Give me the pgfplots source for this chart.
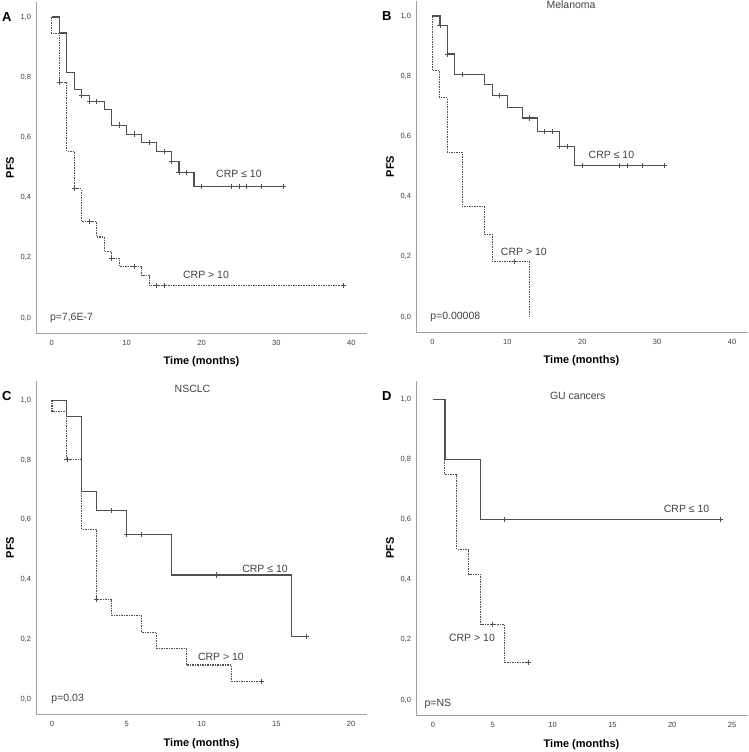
\documentclass[border=0pt]{standalone}
\usepackage{fontspec}
\setmainfont{Liberation Sans}
\usepackage{pgfplots}
\pgfplotsset{compat=1.18}
\definecolor{curve}{HTML}{505050}
\definecolor{axl}{HTML}{A0A0A0}
\definecolor{txt}{HTML}{404040}
\tikzset{
  lab/.style={font=\fontsize{10.5}{12}\selectfont, text=txt},
  letter/.style={font=\fontsize{13}{14}\selectfont\bfseries, anchor=center},
}
\pgfplotsset{
  km/.style={
    scale only axis, width=331pt, height=331pt,
    axis x line*=bottom, axis y line*=left,
    axis line style={axl, line width=0.9pt},
    major tick length=0pt,
    ymin=-0.05, ymax=1.05,
    ytick={0,0.2,0.4,0.6,0.8,1.0},
    yticklabels={0{,}0,0{,}2,0{,}4,0{,}6,0{,}8,1{,}0},
    /pgf/number format/assume math mode=true,
    tick label style={font=\fontsize{7.5}{8}\selectfont, text=txt},
    xticklabel style={yshift=-3.5pt},
    yticklabel style={xshift=-1.5pt},
    xlabel={Time (months)}, ylabel={PFS},
    every axis x label/.style={at={(rel axis cs:0.5,-0.088)},anchor=center,font=\fontsize{11}{12}\selectfont\bfseries},
    every axis y label/.style={at={(rel axis cs:-0.078,0.5)},rotate=90,anchor=center,font=\fontsize{11}{12}\selectfont\bfseries},
    clip=false,
  },
  solidkm/.style={const plot, curve, line width=1.1pt, no marks},
  dotkm/.style={const plot, curve, line width=1.05pt, no marks, dash pattern=on 1.5pt off 1pt},
  cens/.style={only marks, mark=+, mark size=2.6pt, curve, mark options={line width=0.8pt}},
}
\begin{document}
\begin{tikzpicture}
\path[use as bounding box] (0,0) rectangle (749pt,752pt);
% ---------------- A ----------------
\begin{axis}[km, at={(36pt,419pt)}, anchor=south west, xmin=-2.1, xmax=42.1, xtick={0,10,20,30,40}]
\addplot[solidkm] coordinates {(0,1) (1,0.947) (2,0.816) (3,0.759) (4,0.740) (5,0.720) (7,0.692) (8,0.641) (10,0.611) (12,0.584) (14,0.554) (16,0.520) (17,0.484) (19,0.437) (31,0.437)};
\addplot[dotkm] coordinates {(0,1) (0,0.945) (1,0.784) (2,0.554) (3,0.429) (4,0.320) (6,0.269) (7,0.221) (8,0.199) (9,0.172) (12,0.141) (13,0.107) (39,0.107)};
\addplot[cens] coordinates {(4,0.740) (5,0.720) (6,0.720) (9,0.641) (11,0.611) (13,0.584) (15,0.554) (16,0.520) (17,0.484) (18,0.484) (20,0.437) (24,0.437) (25,0.437) (26,0.437) (28,0.437) (31,0.437)};
\addplot[cens] coordinates {(1,0.784) (3,0.429) (5,0.320) (8,0.199) (11,0.172) (14,0.107) (15,0.107) (39,0.107)};
\node[lab] at (axis cs:25,0.478) {CRP ≤ 10};
\node[lab] at (axis cs:20.6,0.143) {CRP > 10};
\node[lab, anchor=west] at (axis cs:-0.7,0) {p=7,6E-7};
\node[letter] at (rel axis cs:-0.088,0.955) {A};
\end{axis}
% ---------------- B ----------------
\begin{axis}[km, at={(416pt,420pt)}, anchor=south west, xmin=-2.2, xmax=42.0, xtick={0,10,20,30,40}]
\addplot[solidkm] coordinates {(0,1) (1,0.969) (2,0.874) (3,0.807) (7,0.771) (8,0.736) (10,0.697) (12,0.661) (14,0.617) (17,0.567) (19,0.502) (31,0.502)};
\addplot[dotkm] coordinates {(0,1) (0,0.818) (1,0.728) (2,0.547) (4,0.366) (7,0.274) (8,0.183) (13,0.183) (13,0)};
\addplot[cens] coordinates {(1,0.969) (2,0.874) (4,0.807) (9,0.736) (13,0.661) (15,0.617) (16,0.617) (17,0.567) (18,0.567) (20,0.502) (25,0.502) (26,0.502) (28,0.502) (31,0.502)};
\addplot[cens] coordinates {(11,0.183)};
\node[lab] at (axis cs:23.9,0.54) {CRP ≤ 10};
\node[lab] at (axis cs:12.2,0.217) {CRP > 10};
\node[lab, anchor=west] at (axis cs:-0.76,0) {p=0.00008};
\node[lab] at (axis cs:18.5,1.037) {Melanoma};
\node[letter] at (rel axis cs:-0.088,0.955) {B};
\end{axis}
% ---------------- C ----------------
\begin{axis}[km, at={(36pt,38pt)}, anchor=south west, xmin=-1.07, xmax=21.07, ymax=1.064, height=333pt, xtick={0,5,10,15,20}]
\addplot[solidkm] coordinates {(0,1) (1,0.944) (2,0.694) (3,0.630) (5,0.551) (8,0.415) (16,0.209) (17,0.209)};
\addplot[dotkm] coordinates {(0,1) (0,0.963) (1,0.802) (2,0.568) (3,0.334) (4,0.278) (6,0.223) (7,0.169) (9,0.114) (12,0.060) (14,0.060)};
\addplot[cens] coordinates {(4,0.630) (5,0.551) (6,0.551) (11,0.415) (17,0.209)};
\addplot[cens] coordinates {(1,0.802) (3,0.334) (14,0.060)};
\node[lab] at (axis cs:14.25,0.435) {CRP ≤ 10};
\node[lab] at (axis cs:11.3,0.140) {CRP > 10};
\node[lab, anchor=west] at (axis cs:-0.27,0) {p=0.03};
\node[lab] at (axis cs:9.4,1.037) {NSCLC};
\node[letter] at (rel axis cs:-0.088,0.955) {C};
\end{axis}
% ---------------- D ----------------
\begin{axis}[km, at={(416pt,37pt)}, anchor=south west, xmin=-1.42, xmax=26.25, ymax=1.06, height=334pt, xtick={0,5,10,15,20,25}]
\addplot[solidkm] coordinates {(0,1) (1,0.8) (4,0.6) (24,0.6)};
\addplot[dotkm] coordinates {(0,1) (1,0.75) (2,0.5) (3,0.417) (4,0.25) (6,0.125) (8,0.125)};
\addplot[cens] coordinates {(6,0.6) (24,0.6)};
\addplot[cens] coordinates {(5,0.25) (8,0.125)};
\node[lab] at (axis cs:21.2,0.635) {CRP ≤ 10};
\node[lab] at (axis cs:3.26,0.206) {CRP > 10};
\node[lab, anchor=west] at (axis cs:-1.0,-0.013) {p=NS};
\node[lab] at (axis cs:12.1,1.01) {GU cancers};
\node[letter] at (rel axis cs:-0.088,0.955) {D};
\end{axis}
\end{tikzpicture}
\end{document}
